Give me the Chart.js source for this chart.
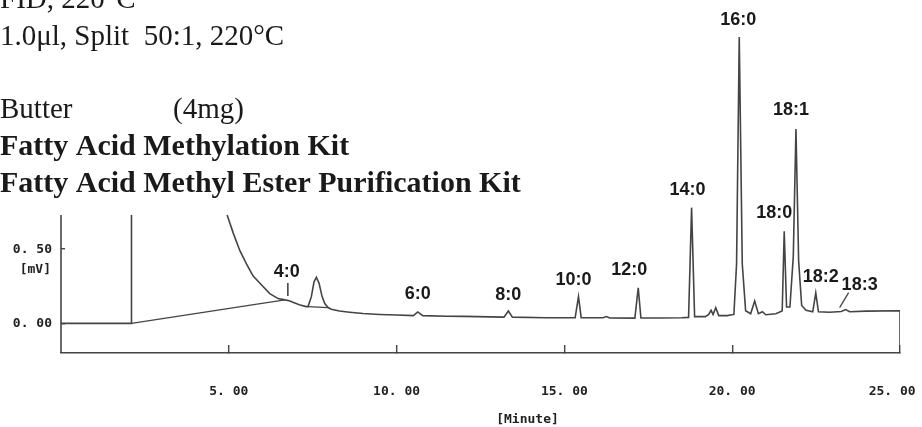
<!DOCTYPE html>
<html>
<head>
<meta charset="utf-8">
<script src="https://cdn.jsdelivr.net/npm/chart.js@4"></script>
<style>
  html, body { margin: 0; padding: 0; background: #fff; overflow: hidden; }
  #wrap { position: relative; width: 922px; height: 427px; }
</style>
</head>
<body>
<div id="wrap"><canvas id="gc" width="922" height="427"></canvas></div>
<script>
// ---- data ----
// retention time (min) and detector signal (mV); null = trace leaves the visible area
const retention = [0, 2.1, 2.1, 3.5, 4.95, 5.13, 5.33, 5.53, 5.72, 5.97, 6.22, 6.47, 6.67, 6.8, 6.91, 7.1, 7.3,
  7.36, 7.46, 7.54, 7.61, 7.69, 7.78, 7.86, 7.95, 8.05, 8.3, 8.6, 9.0, 9.5, 10.0, 10.5, 10.63, 10.78, 11.5, 12.0,
  13.2, 13.33, 13.45, 14.45, 15.32, 15.42, 15.5, 16.15, 16.25, 16.35, 17.1, 17.2, 17.28, 17.9, 18.5,
  18.7, 18.79, 18.88, 19.2, 19.3, 19.37, 19.43, 19.51, 19.6, 19.85,
  20.05, 20.13, 20.21, 20.3, 20.4, 20.55, 20.67, 20.78, 20.9, 21.0, 21.3, 21.45,
  21.49, 21.55, 21.62, 21.72, 21.82, 21.9, 21.98, 22.07, 22.2, 22.4, 22.49, 22.57,
  22.9, 23.25, 23.38, 23.5, 24.0, 25.0, 25.0];
const signal = [0, 0, 0.73, null, 0.73, 0.61, 0.49, 0.40, 0.32, 0.26, 0.20, 0.167, 0.158, 0.152, 0.142, 0.125, 0.113,
  0.113, 0.18, 0.28, 0.31, 0.27, 0.18, 0.133, 0.108, 0.095, 0.083, 0.075, 0.066, 0.06, 0.056, 0.052, 0.077, 0.052, 0.048, 0.047,
  0.042, 0.083, 0.042, 0.038, 0.038, 0.18, 0.038, 0.038, 0.046, 0.036, 0.035, 0.24, 0.036, 0.036, 0.038,
  0.04, 0.78, 0.045, 0.045, 0.06, 0.088, 0.06, 0.106, 0.052, 0.052,
  0.06, 0.4, 1.93, 0.4, 0.085, 0.065, 0.15, 0.065, 0.078, 0.058, 0.065, 0.08,
  0.085, 0.62, 0.11, 0.11, 0.45, 1.31, 0.42, 0.12, 0.088, 0.078, 0.205, 0.078,
  0.075, 0.08, 0.093, 0.078, 0.082, 0.085, -0.2];

// drawn integration baseline under the solvent tail
const baseTimes = [2.1, 6.67, 7.0, 7.36, 7.95];
const baseSignal = [0, 0.158, null, 0.113, 0.106];

// peak identification
const peakNames = ['4:0', '6:0', '8:0', '10:0', '12:0', '14:0', '16:0', '18:0', '18:1', '18:2', '18:3'];
const peakTimes = [6.67, 10.63, 13.33, 15.42, 17.2, 18.79, 20.21, 21.55, 21.9, 22.49, 23.38];
const peakHeights = [0.158, 0.077, 0.083, 0.18, 0.24, 0.78, 1.93, 0.62, 1.31, 0.205, 0.093];

const xTicks = [5, 10, 15, 20, 25];
const yTicks = [0, 0.5];
const clipLevel = 0.73; // top of the visible left part of the trace

const headerLines = [
  { text: 'FID, 220°C', bold: false, base: 8 },
  { text: '1.0μl, Split  50:1, 220°C', bold: false, base: 45 },
  { text: 'Butter', bold: false, base: 118, extra: '(4mg)' },
  { text: 'Fatty Acid Methylation Kit', bold: true, base: 155 },
  { text: 'Fatty Acid Methyl Ester Purification Kit', bold: true, base: 192 }
];

const ink = '#444';
const monoFont = { family: '"DejaVu Sans Mono", monospace', size: 13, weight: 'bold' };
const fmt = v => v.toFixed(2).replace('.', '. ');

// label placement tweaks (px), by peak name
const labelShift = { '4:0': [2, -28], '10:0': [-5, -17], '12:0': [-9, -18], '14:0': [-4, -18], '16:0': [-1, -17],
  '18:0': [-10, -18], '18:1': [-5, -19], '18:2': [5, -16], '8:0': [0, -16] };

const extras = {
  id: 'extras',
  afterDatasetsDraw(chart) {
    const { ctx, chartArea, scales: { x, y } } = chart;
    ctx.save();
    // partial left axis line
    ctx.strokeStyle = ink;
    ctx.lineWidth = 1.6;
    ctx.beginPath();
    ctx.moveTo(chartArea.left, y.getPixelForValue(clipLevel));
    ctx.lineTo(chartArea.left, chartArea.bottom);
    ctx.stroke();

    // peak labels
    ctx.fillStyle = '#1a1a1a';
    ctx.font = 'bold 18px "Liberation Sans", Arial, sans-serif';
    ctx.textAlign = 'center';
    ctx.textBaseline = 'middle';
    peakNames.forEach((name, i) => {
      const px = x.getPixelForValue(peakTimes[i]);
      const py = y.getPixelForValue(peakHeights[i]);
      if (name === '18:3') {
        ctx.fillText(name, px + 14, py - 25);
        ctx.beginPath();
        ctx.lineWidth = 1.3;
        ctx.moveTo(px - 6, py - 2);
        ctx.lineTo(px + 3, py - 17);
        ctx.stroke();
        return;
      }
      const s = labelShift[name] || [0, -18];
      ctx.fillText(name, px + s[0], py + s[1]);
      if (name === '4:0') {
        ctx.beginPath();
        ctx.lineWidth = 1.6;
        ctx.moveTo(px + 3, py - 17);
        ctx.lineTo(px + 3, py - 4);
        ctx.stroke();
      }
    });

    // unit labels
    ctx.font = 'bold 13px "DejaVu Sans Mono", monospace';
    ctx.fillStyle = '#222';
    ctx.textAlign = 'right';
    ctx.fillText('[mV]', chartArea.left - 10, y.getPixelForValue(0.5) + 20);
    ctx.textAlign = 'center';
    ctx.fillText('[Minute]', x.getPixelForValue(13.9), chartArea.bottom + 67);

    // header notes
    ctx.textAlign = 'left';
    ctx.textBaseline = 'alphabetic';
    ctx.fillStyle = '#1a1a1a';
    headerLines.forEach(l => {
      ctx.font = (l.bold ? 'bold 30px' : '29px') + ' "Liberation Serif", "Times New Roman", serif';
      ctx.fillText(l.text, 0, l.base);
      if (l.extra) ctx.fillText(l.extra, 173, l.base);
    });
    ctx.restore();
  }
};

new Chart(document.getElementById('gc'), {
  type: 'line',
  data: {
    datasets: [
      {
        data: retention.map((t, i) => ({ x: t, y: signal[i] })),
        borderColor: ink, borderWidth: 1.6, pointRadius: 0, tension: 0, spanGaps: false
      },
      {
        data: baseTimes.map((t, i) => ({ x: t, y: baseSignal[i] })),
        borderColor: ink, borderWidth: 1.4, pointRadius: 0, tension: 0, spanGaps: false
      }
    ]
  },
  options: {
    responsive: false,
    animation: false,
    events: [],
    layout: { padding: { left: 0, right: 22, top: 0, bottom: 0 } },
    plugins: { legend: { display: false }, tooltip: { enabled: false } },
    scales: {
      x: {
        type: 'linear', min: 0, max: 25,
        afterBuildTicks: s => { s.ticks = xTicks.map(v => ({ value: v })); },
        afterFit: s => { s.height = 74; s.paddingLeft = 0; s.paddingRight = 0; },
        // last label nudged left (trailing spaces) so it stays inside the page
        ticks: { callback: v => v === 25 ? fmt(v) + '  ' : fmt(v), font: monoFont, color: '#222', padding: 39, maxRotation: 0, autoSkip: false },
        grid: { drawOnChartArea: false, drawTicks: true, tickLength: -8, color: ink, lineWidth: 1.4 },
        border: { display: true, color: ink, width: 1.6 }
      },
      y: {
        min: -0.2, max: 2.18,
        afterBuildTicks: s => { s.ticks = yTicks.map(v => ({ value: v })); },
        afterFit: s => { s.width = 61; s.paddingTop = 0; s.paddingBottom = 0; },
        ticks: { callback: v => fmt(v), font: monoFont, color: '#222', padding: 13 },
        grid: { drawOnChartArea: false, drawTicks: true, tickLength: -4, color: ink, lineWidth: 1.4 },
        border: { display: false }
      }
    }
  },
  plugins: [extras]
});
</script>
</body>
</html>
